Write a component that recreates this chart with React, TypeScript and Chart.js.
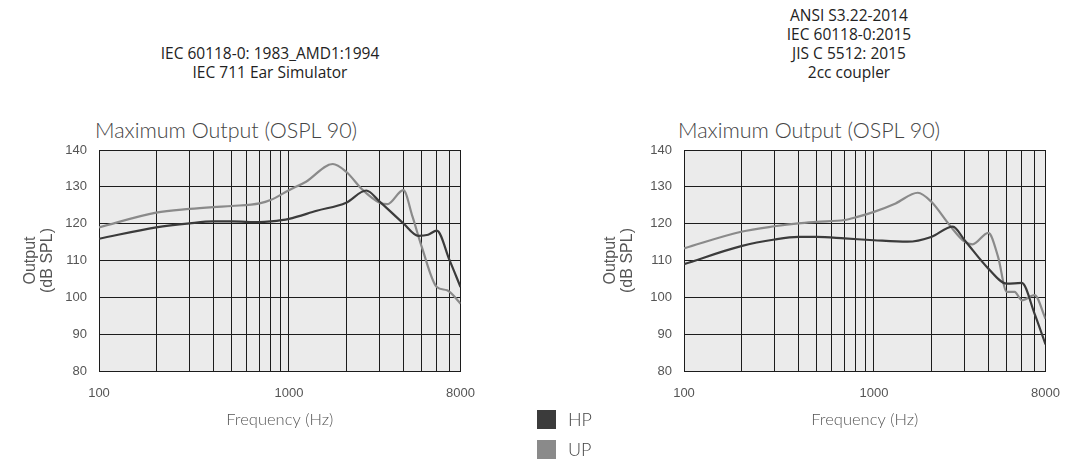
import React, { useEffect, useRef } from "react";
import { Chart, registerables } from "chart.js";

Chart.register(...registerables);

// ---- data ----
const GRID_FREQS = [100, 200, 300, 400, 500, 600, 700, 800, 900, 1000, 2000, 3000, 4000, 5000, 6000, 7000, 8000];
const X_TICK_LABELS = [100, 1000, 8000];
const Y_MIN = 80;
const Y_MAX = 140;
const Y_STEP = 10;

const SERIES_NAMES = ["HP", "UP"];
const SERIES_COLORS = ["#3b3b3b", "#8a8a8a"];

const LEFT_HEADER = ["IEC 60118-0: 1983_AMD1:1994", "IEC 711 Ear Simulator"];
const RIGHT_HEADER = ["ANSI S3.22-2014", "IEC 60118-0:2015", "JIS C 5512: 2015", "2cc coupler"];
const CHART_TITLE = "Maximum Output (OSPL 90)";
const X_TITLE = "Frequency (Hz)";
const Y_TITLE = ["Output", "(dB SPL)"];

// Left chart (IEC 711)
const leftHpFreq = [100, 200, 300, 400, 500, 700, 800, 1000, 1400, 2000, 2550, 3000, 4000, 4800, 5400, 6000, 7000, 8000];
const leftHpDb = [115.9, 119.0, 120.1, 120.6, 120.6, 120.4, 120.6, 121.3, 123.5, 125.7, 129.0, 126.0, 120.1, 116.7, 117.0, 118.1, 110.1, 102.8];
const leftUpFreq = [100, 200, 300, 400, 500, 700, 800, 1000, 1230, 1700, 2000, 2450, 3000, 3300, 4000, 4470, 5000, 6000, 6800, 8000];
const leftUpDb = [119.0, 123.0, 124.0, 124.5, 124.8, 125.5, 126.4, 129.1, 131.4, 136.2, 134.1, 129.1, 125.7, 125.3, 129.1, 121.9, 113.7, 102.8, 101.9, 98.3];

// Right chart (2cc coupler)
const rightHpFreq = [100, 200, 300, 400, 500, 700, 1000, 1500, 2000, 2600, 3000, 4000, 5000, 6000, 7000, 8000];
const rightHpDb = [109.0, 113.9, 115.7, 116.4, 116.4, 116.0, 115.5, 115.1, 116.4, 119.2, 115.5, 107.8, 103.7, 103.9, 95.6, 87.2];
const rightUpFreq = [100, 200, 300, 400, 500, 700, 800, 1000, 1300, 1700, 2000, 2500, 3000, 3300, 4000, 4500, 5000, 5500, 6000, 7000, 8000];
const rightUpDb = [113.3, 117.8, 119.3, 120.1, 120.5, 121.0, 121.7, 123.2, 125.5, 128.4, 126.0, 119.6, 115.1, 114.4, 117.5, 111.0, 101.5, 101.5, 99.2, 100.6, 94.2];

const toPoints = (f: number[], v: number[]) => f.map((x, i) => ({ x, y: v[i] }));

const plotBg = {
  id: "plotBg",
  beforeDraw(chart: any) {
    const { ctx, chartArea } = chart;
    if (!chartArea) return;
    ctx.save();
    ctx.fillStyle = "#ebebeb";
    ctx.fillRect(chartArea.left, chartArea.top, chartArea.right - chartArea.left, chartArea.bottom - chartArea.top);
    ctx.restore();
  },
};

const TICK_FONT = { family: "'Liberation Sans', Arial, sans-serif", size: 13 };
const THIN_FONT = "Lato, 'Open Sans', sans-serif";

function OsplChart(props: {
  left: number;
  hp: { x: number; y: number }[];
  up: { x: number; y: number }[];
  yTitlePad: number;
}) {
  const ref = useRef<HTMLCanvasElement | null>(null);
  useEffect(() => {
    if (!ref.current) return;
    const chart = new Chart(ref.current, {
      type: "line",
      data: {
        datasets: [
          {
            label: SERIES_NAMES[0],
            data: props.hp,
            borderColor: SERIES_COLORS[0],
            borderWidth: 2.2,
            pointRadius: 0,
            cubicInterpolationMode: "monotone",
            fill: false,
          },
          {
            label: SERIES_NAMES[1],
            data: props.up,
            borderColor: SERIES_COLORS[1],
            borderWidth: 2.2,
            pointRadius: 0,
            cubicInterpolationMode: "monotone",
            fill: false,
          },
        ],
      },
      options: {
        animation: false,
        responsive: true,
        maintainAspectRatio: false,
        layout: { padding: { top: 10, right: 28, bottom: 0, left: 0 } },
        plugins: { legend: { display: false }, tooltip: { enabled: false } },
        scales: {
          x: {
            type: "logarithmic",
            min: 100,
            max: 8000,
            afterBuildTicks: (scale: any) => {
              scale.ticks = GRID_FREQS.map((v) => ({ value: v }));
            },
            afterFit: (scale: any) => {
              scale.height = 69;
            },
            ticks: {
              autoSkip: false,
              maxRotation: 0,
              minRotation: 0,
              padding: 15,
              color: "#555",
              font: TICK_FONT,
              callback: (value: any) => (X_TICK_LABELS.includes(Number(value)) ? String(value) : ""),
            },
            grid: { color: "#1c1c1c", lineWidth: 1, drawTicks: false, tickLength: 0 },
            border: { display: true, color: "#1c1c1c", width: 1 },
            title: {
              display: true,
              text: X_TITLE,
              color: "#555",
              font: { family: THIN_FONT, size: 16.5, weight: "300" as any },
              padding: { top: 0, bottom: 10 },
            },
          },
          y: {
            type: "linear",
            min: Y_MIN,
            max: Y_MAX,
            afterFit: (scale: any) => {
              scale.width = 99;
              scale.paddingTop = 8;
              scale.paddingBottom = 8;
            },
            ticks: { stepSize: Y_STEP, padding: 12, color: "#555", font: TICK_FONT },
            grid: { color: "#1c1c1c", lineWidth: 1, drawTicks: false, tickLength: 0 },
            border: { display: true, color: "#1c1c1c", width: 1 },
            title: {
              display: true,
              text: Y_TITLE,
              color: "#555",
              font: { family: "'Liberation Sans', Arial, sans-serif", size: 16, lineHeight: 1.06 },
              padding: { top: props.yTitlePad, bottom: 0 },
            },
          },
        },
      },
      plugins: [plotBg],
    } as any);
    return () => chart.destroy();
  }, []);
  return (
    <div style={{ position: "absolute", left: props.left, top: 140, width: 490, height: 300 }}>
      <canvas ref={ref} />
    </div>
  );
}

const headerStyle: React.CSSProperties = {
  position: "absolute",
  textAlign: "center",
  fontFamily: "'Open Sans', Lato, sans-serif",
  fontSize: 15.5,
  lineHeight: "19px",
  color: "#222",
  whiteSpace: "nowrap",
};

const titleStyle: React.CSSProperties = {
  position: "absolute",
  top: 117,
  fontFamily: THIN_FONT,
  fontWeight: 300,
  fontSize: 21.5,
  lineHeight: "26px",
  color: "#444",
  whiteSpace: "nowrap",
};

export default function App() {
  return (
    <div style={{ position: "absolute", left: 0, top: 0, width: 1083, height: 462, background: "#fff", overflow: "hidden" }}>
      <div style={{ ...headerStyle, left: 120, width: 300, top: 44 }}>
        {LEFT_HEADER.map((t) => (
          <div key={t}>{t}</div>
        ))}
      </div>
      <div style={{ ...headerStyle, left: 699, width: 300, top: 6 }}>
        {RIGHT_HEADER.map((t) => (
          <div key={t}>{t}</div>
        ))}
      </div>
      <div style={{ ...titleStyle, left: 95 }}>{CHART_TITLE}</div>
      <div style={{ ...titleStyle, left: 678 }}>{CHART_TITLE}</div>

      <OsplChart left={0} hp={toPoints(leftHpFreq, leftHpDb)} up={toPoints(leftUpFreq, leftUpDb)} yTitlePad={22} />
      <OsplChart left={585} hp={toPoints(rightHpFreq, rightHpDb)} up={toPoints(rightUpFreq, rightUpDb)} yTitlePad={17} />

      {SERIES_NAMES.map((name, i) => (
        <div
          key={name}
          style={{ position: "absolute", left: 537, top: 408 + i * 30, height: 22, display: "flex", alignItems: "center" }}
        >
          <div style={{ width: 19, height: 19, background: SERIES_COLORS[i] }} />
          <div
            style={{
              marginLeft: 12,
              fontFamily: THIN_FONT,
              fontWeight: 300,
              fontSize: 18,
              color: "#444",
              lineHeight: "22px",
            }}
          >
            {name}
          </div>
        </div>
      ))}
    </div>
  );
}
